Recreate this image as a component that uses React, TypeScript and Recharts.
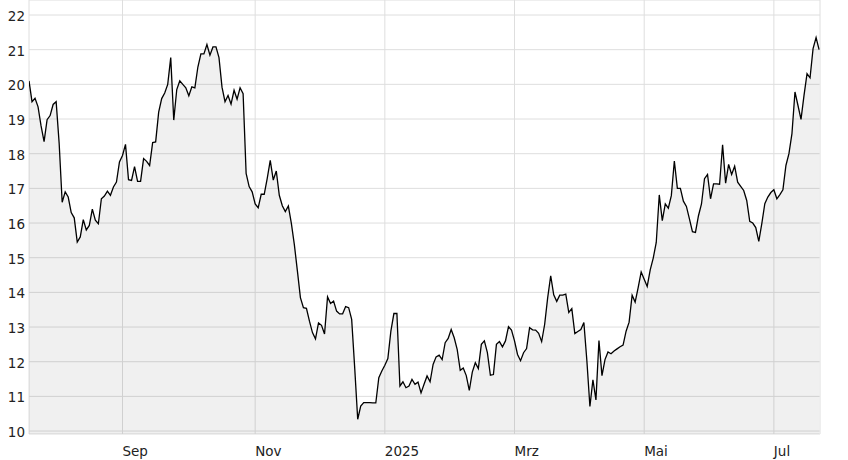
import React from 'react';
import { AreaChart, Area, XAxis, YAxis, CartesianGrid } from 'recharts';

// Daily closing prices, one per trading (week)day, Jul 2024 – Jul 2025
const pricesJulAug = [
  20.1, 19.5, 19.6, 19.35, 18.8, 18.35, 18.98, 19.1, 19.42, 19.5,
  18.3, 16.6, 16.9, 16.75, 16.3, 16.15, 15.45, 15.6, 16.1, 15.8,
  15.93, 16.4, 16.08, 15.98, 16.7, 16.78, 16.92, 16.8, 17.04, 17.18,
  17.76,
];
const pricesSepOct = [
  17.95, 18.27, 17.25, 17.23, 17.63, 17.2, 17.2, 17.86, 17.78, 17.66,
  18.32, 18.34, 19.2, 19.59, 19.75, 20.0, 20.77, 18.97, 19.85, 20.1,
  20.0, 19.9, 19.67, 19.93, 19.9, 20.5, 20.88, 20.88, 21.15, 20.84,
  21.08, 21.08, 20.77, 19.92, 19.5, 19.68, 19.43, 19.83, 19.57, 19.9,
  19.73, 17.43, 17.05, 16.9,
];
const pricesNovDec = [
  16.55, 16.44, 16.83, 16.83, 17.29, 17.81, 17.24, 17.5, 16.8, 16.5,
  16.33, 16.49, 15.99, 15.37, 14.62, 13.85, 13.56, 13.54, 13.17, 12.84,
  12.66, 13.12, 13.05, 12.8, 13.87, 13.68, 13.75, 13.46, 13.38, 13.38,
  13.59, 13.56, 13.22, 11.83, 10.34, 10.72, 10.82, 10.82, 10.82, 10.81,
  10.81, 11.54, 11.73,
];
const pricesJanFeb = [
  11.9, 12.09, 12.88, 13.39, 13.39, 11.3, 11.42, 11.25, 11.3, 11.49,
  11.35, 11.41, 11.1, 11.35, 11.59, 11.42, 11.92, 12.14, 12.19, 12.06,
  12.55, 12.67, 12.93, 12.69, 12.35, 11.75, 11.82, 11.6, 11.17, 11.7,
  11.97, 11.8, 12.5, 12.6, 12.26, 11.61, 11.63, 12.5, 12.58, 12.43,
  12.6, 13.01, 12.91,
];
const pricesMarApr = [
  12.6, 12.21, 12.03, 12.26, 12.38, 12.98, 12.92, 12.91, 12.82, 12.58,
  13.08, 13.85, 14.48, 13.93, 13.74, 13.92, 13.92, 13.95, 13.42, 13.53,
  12.81, 12.87, 12.93, 13.13, 12.02, 10.71, 11.48, 10.9, 12.61, 11.6,
  12.06, 12.28, 12.23, 12.31, 12.37, 12.43, 12.48, 12.88, 13.14, 13.92,
  13.72, 14.14, 14.59,
];
const pricesMayJun = [
  14.38, 14.17, 14.65, 14.99, 15.44, 16.81, 16.07, 16.55, 16.43, 16.79,
  17.79, 17.0, 17.0, 16.63, 16.48, 16.12, 15.75, 15.73, 16.21, 16.55,
  17.28, 17.4, 16.7, 17.13, 17.13, 17.12, 18.26, 17.15, 17.69, 17.4,
  17.64, 17.18, 17.06, 16.94, 16.65, 16.05, 16.0, 15.87, 15.47, 15.98,
  16.56, 16.75, 16.88,
];
const pricesJul = [
  16.96, 16.7, 16.82, 16.96, 17.66, 18.0, 18.58, 19.78, 19.39, 18.99,
  19.68, 20.31, 20.19, 21.03, 21.35, 21.0,
];

// Trading-day index of the first trading day of each labelled month
const monthTicks = [31, 75, 118, 161, 204, 247];
const monthLabels = ['Sep', 'Nov', '2025', 'Mrz', 'Mai', 'Jul'];
const yTicks = [10, 11, 12, 13, 14, 15, 16, 17, 18, 19, 20, 21, 22];

const prices = [
  ...pricesJulAug,
  ...pricesSepOct,
  ...pricesNovDec,
  ...pricesJanFeb,
  ...pricesMarApr,
  ...pricesMayJun,
  ...pricesJul,
];
const data = prices.map((p, i) => ({ i, p }));

const FONT = '"DejaVu Sans", Verdana, sans-serif';

const XTick = (props: any) => {
  const { x, y, payload } = props;
  const idx = monthTicks.indexOf(payload.value);
  return (
    <text x={x} y={y + 14} textAnchor="start" fill="#222" fontSize={13.5} fontFamily={FONT}>
      {idx >= 0 ? monthLabels[idx] : ''}
    </text>
  );
};

const YTick = (props: any) => {
  const { x, y, payload } = props;
  return (
    <text x={x} y={y + 6} textAnchor="end" fill="#222" fontSize={13.5} fontFamily={FONT}>
      {payload.value}
    </text>
  );
};

export default function App() {
  return (
    <div style={{ position: 'absolute', left: 0, top: 0, background: '#fff' }}>
      <AreaChart
        width={848}
        height={460}
        data={data}
        margin={{ top: 0, right: 28, bottom: 0, left: 0 }}
      >
        <CartesianGrid stroke="#dedede" strokeWidth={1} />
        <XAxis
          dataKey="i"
          type="number"
          domain={[0, 262.3]}
          ticks={monthTicks}
          tick={<XTick />}
          tickLine={false}
          axisLine={false}
          height={26}
          interval={0}
          allowDataOverflow
        />
        <YAxis
          type="number"
          domain={[9.915, 22.433]}
          ticks={yTicks}
          tick={<YTick />}
          tickLine={false}
          axisLine={false}
          width={29}
          tickSize={2}
          tickMargin={2}
          interval={0}
          allowDataOverflow
        />
        <Area
          type="linear"
          dataKey="p"
          stroke="#000"
          strokeWidth={1.3}
          fill="#000"
          fillOpacity={0.06}
          isAnimationActive={false}
          dot={false}
          activeDot={false}
        />
      </AreaChart>
    </div>
  );
}
